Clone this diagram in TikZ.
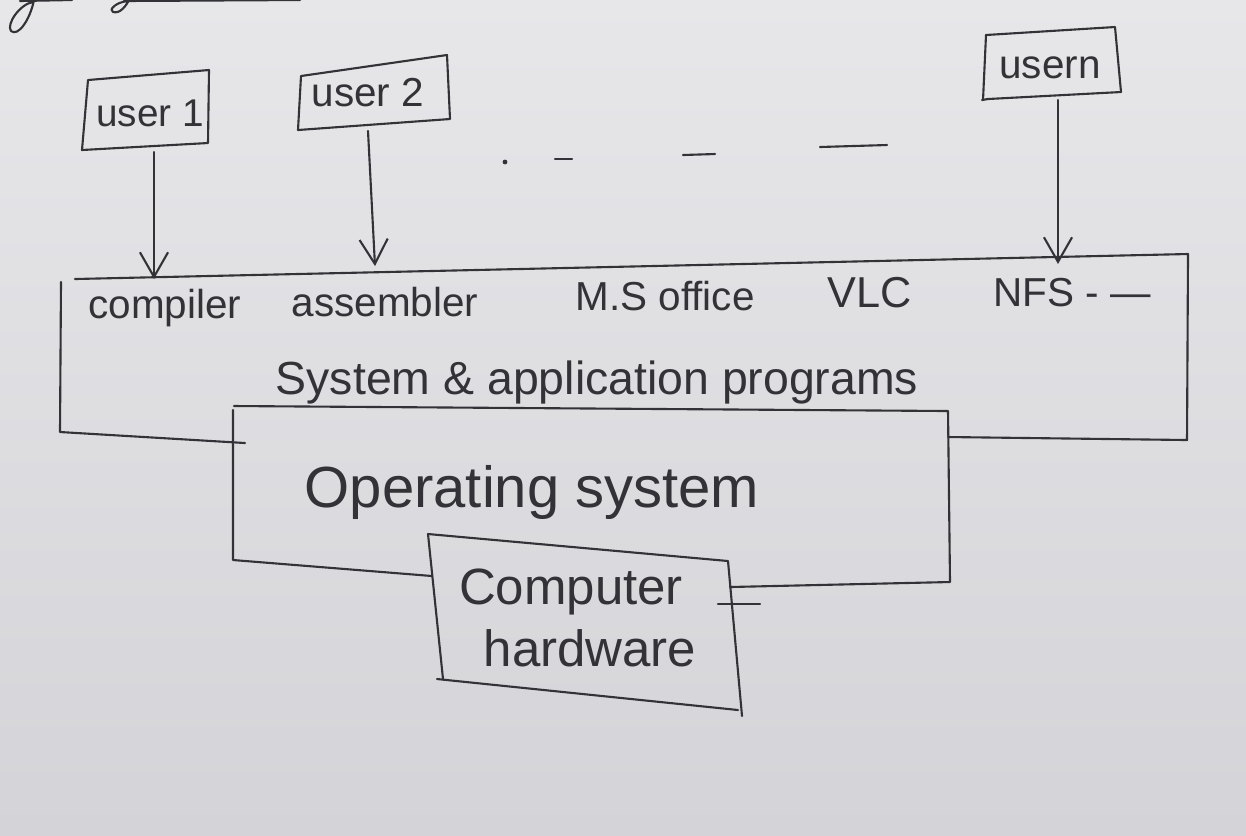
\documentclass[tikz,border=0pt]{standalone}
\usepackage{fontspec}
\setmainfont{Liberation Sans}
\usetikzlibrary{arrows.meta}
\definecolor{ink}{RGB}{50,50,55}
\definecolor{boardtop}{RGB}{231,231,234}
\definecolor{boardbot}{RGB}{212,212,216}
\begin{document}
\begin{tikzpicture}[x=0.01cm,y=-0.01cm,
  pen/.style={draw=ink,line width=0.6pt,line join=round,line cap=round},
  arr/.style={pen,-{Straight Barb[length=7pt,width=8pt]}},
  lbl/.style={text=ink,inner sep=0pt,font=\fontsize{11.5}{13}\selectfont},
]
\shade[top color=boardtop,bottom color=boardbot] (0,0) rectangle (1246,835);
\useasboundingbox (0,0) rectangle (1246,835);

% cut-off scribbles at the top-left
\draw[pen] (33,2) .. controls (20,4) and (6,24) .. (11,31) .. controls (18,37) and (30,20) .. (34,0);
\draw[pen] (20,1) -- (72,0);
\draw[pen] (128,1) .. controls (116,2) and (108,10) .. (113,12) .. controls (120,14) and (126,6) .. (129,0);
\draw[pen] (124,1) -- (300,0);

% user boxes
\draw[pen] (88,80) -- (209,70) -- (208,143) -- (82,150) -- cycle;
\node[lbl,font=\fontsize{11}{13}\selectfont] (user1) at (150,113) {user 1};
\draw[pen] (301,76) -- (447,55) -- (450,119) -- (298,130) -- cycle;
\node[lbl,font=\fontsize{11.5}{13}\selectfont] (user2) at (368,93) {user 2};
\draw[pen] (986,35) -- (1115,27) -- (1121,92) -- (988,99) -- (982,100);
\draw[pen] (986,35) -- (983,100);
\node[lbl,font=\fontsize{11.5}{13}\selectfont] (usern) at (1050,68) {usern};

% dashes between users
\fill[ink] (505,162) circle (2.4);
\draw[pen] (555,159) -- (572,159);
\draw[pen] (683,155) -- (715,154);
\draw[pen] (820,147) -- (887,145);

% system & application programs box
\draw[pen] (75,279) -- (1188,254) -- (1187,440) -- (948,437);
\draw[pen] (61,282) -- (60,432) -- (245,443);
\node[lbl] (compiler) at (165,308) {compiler};
\node[lbl] (assembler) at (385,302) {assembler};
\node[lbl] (msoffice) at (665,296) {M.S office};
\node[lbl,font=\fontsize{12.3}{14}\selectfont] (vlc) at (870,293) {VLC};
\node[lbl,anchor=west] (nfs) at (993,293) {NFS\ -\ \textemdash};
\node[lbl,font=\fontsize{13.2}{15}\selectfont] (sysapp) at (597,382) {System \& application programs};

% coordinates where the arrows land
\coordinate (u1b) at (154,152);
\coordinate (c1) at (154,279);
\coordinate (u2b) at (368,131);
\coordinate (c2) at (375,266);
\coordinate (unb) at (1058,100);
\coordinate (cn) at (1058,264);
\draw[arr] (u1b) -- (c1);
\draw[arr] (u2b) -- (c2);
\draw[arr] (unb) -- (cn);

% operating system box
\draw[pen] (234,406) -- (948,411) -- (950,582) -- (730,587);
\draw[pen] (233,410) -- (233,560) -- (432,576);
\node[lbl,font=\fontsize{16.5}{19}\selectfont] (os) at (532,492) {Operating system};

% computer hardware box
\draw[pen] (428,534) -- (728,561) -- (742,716);
\draw[pen] (428,534) -- (443,679);
\draw[pen] (437,679) -- (738,710);
\draw[pen] (718,604) -- (760,604);
\node[lbl,font=\fontsize{14.5}{17}\selectfont] (hw1) at (571,592) {Computer};
\node[lbl,font=\fontsize{14.5}{17}\selectfont] (hw2) at (590,648) {hardware};
\end{tikzpicture}
\end{document}
